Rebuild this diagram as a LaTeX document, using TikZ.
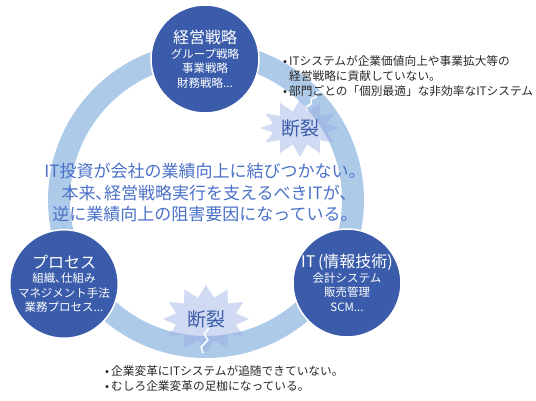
\documentclass[tikz,border=0pt]{standalone}
\usepackage{fontspec}
\setmainfont{Noto Sans CJK JP}
\usepackage{tikz}
\definecolor{ringblue}{RGB}{174,202,233}
\definecolor{discblue}{RGB}{58,92,170}
\definecolor{msgblue}{RGB}{74,112,200}
\definecolor{burstblue}{RGB}{150,172,228}
\definecolor{notegray}{RGB}{40,40,40}
\usetikzlibrary{positioning, shapes.symbols, calc}
\tikzset{
    ringline/.style={draw=ringblue, line width=22pt},
    phasedisc/.style={circle, fill=discblue, draw=white, line width=1.5pt, minimum size=108pt, inner sep=0pt, text=white, align=center, font=\fontsize{11.5}{14.5}\selectfont},
    breakburst/.style={starburst, starburst points=12, starburst point height=12pt, random starburst=0, fill=burstblue, fill opacity=0.45, text opacity=1, text=discblue, inner sep=0pt, font=\fontsize{19}{19}\selectfont},
    crackline/.style={draw=white, line width=1.5pt, line join=round},
    msgtext/.style={text=msgblue, align=center, font=\fontsize{17}{21.5}\selectfont},
    notetext/.style={text=notegray, align=left, inner sep=0pt, font=\fontsize{11.7}{15}\selectfont}
}
\newcommand{\disctitle}[1]{{\fontsize{16}{19}\selectfont #1}}
\newcommand{\notebullet}{•\hspace{2pt}}

\begin{document}
\begin{tikzpicture}[x=1pt, y=1pt]
  \useasboundingbox (0,0) rectangle (536,400);
  \coordinate (c) at (206,200);
  \draw[ringline] (c) circle[radius=147];

  \node[breakburst, minimum width=80pt, minimum height=58pt] (brktop) at (300,272) {断裂};
  \node[breakburst, minimum width=86pt, minimum height=68pt] (brkbot) at (206,81) {断裂};
  \draw[crackline] (306,293) -- (311,296) -- (311,301) -- (316,303) -- (316,307) -- (322,309);
  \draw[crackline] (209,72) -- (204,66) -- (208,60) -- (201,53) -- (203,47);

  \node[phasedisc] (strat) at (205,341) {\disctitle{経営戦略}\\グループ戦略\\事業戦略\\財務戦略...};
  \node[phasedisc] (proc) at (64,116) {\disctitle{プロセス}\\組織､仕組み\\マネジメント手法\\業務プロセス...};
  \node[phasedisc] (itsys) at (347,117) {\disctitle{IT\,(情報技術)}\\会計システム\\販売管理\\SCM...};

  \node[msgtext] (msg) at (205,207) {IT投資が会社の業績向上に結びつかない。\\本来､経営戦略実行を支えるべきITが､\\逆に業績向上の阻害要因になっている。};

  \node[notetext, anchor=north west] (notetop) at (283,345) {\notebullet ITシステムが企業価値向上や事業拡大等の\\\hphantom{\notebullet}経営戦略に貢献していない。\\\notebullet 部門ごとの「個別最適」な非効率なITシステム};
  \node[notetext, anchor=north west] (notebot) at (105,35) {\notebullet 企業変革にITシステムが追随できていない。\\\notebullet むしろ企業変革の足枷になっている。};
\end{tikzpicture}
\end{document}
